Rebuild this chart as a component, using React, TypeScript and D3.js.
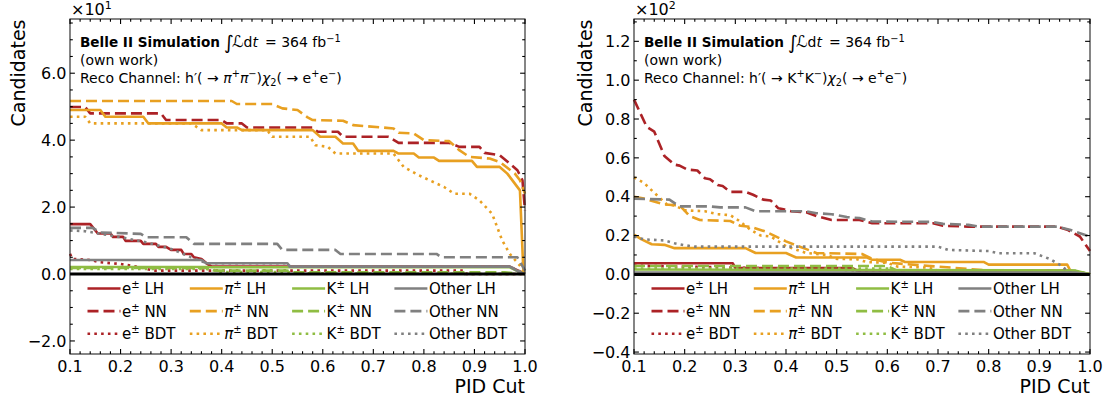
import React from "react";
import * as d3 from "d3";

type Pt = [number, number];

// ---------- shared axis values ----------
const xMajorTicks = [0.1, 0.2, 0.3, 0.4, 0.5, 0.6, 0.7, 0.8, 0.9, 1.0];
const leftYTicks = [-2, 0, 2, 4, 6];
const rightYTicks = [-0.4, -0.2, 0, 0.2, 0.4, 0.6, 0.8, 1.0, 1.2];
const particles = ["e", "pi", "K", "Other"];
const methods = ["LH", "NN", "BDT"];

// ---------- LEFT panel: h'(->pi pi) chi2(->ee), units of 10 candidates ----------
const eLH_L: Pt[] = [[0.1,1.49],[0.14,1.49],[0.155,1.21],[0.18,1.21],[0.185,1.11],[0.205,1.11],[0.21,0.99],[0.24,0.99],[0.245,0.9],[0.27,0.9],[0.275,0.81],[0.29,0.81],[0.3,0.72],[0.32,0.72],[0.325,0.6],[0.34,0.6],[0.345,0.5],[0.36,0.45],[0.37,0.32],[0.38,0.22],[0.97,0.22],[1.0,0]];
const eNN_L: Pt[] = [[0.1,4.99],[0.13,4.99],[0.14,4.8],[0.28,4.8],[0.29,4.6],[0.4,4.6],[0.41,4.5],[0.44,4.5],[0.45,4.38],[0.58,4.38],[0.59,4.25],[0.63,4.25],[0.64,4.1],[0.73,4.1],[0.75,3.92],[0.85,3.92],[0.87,3.8],[0.91,3.8],[0.92,3.62],[0.95,3.55],[0.97,3.3],[0.985,3.1],[0.995,2.8],[1.0,1.9]];
const eBDT_L: Pt[] = [[0.1,0.6],[0.105,0.45],[0.14,0.42],[0.16,0.35],[0.2,0.3],[0.24,0.2],[0.265,0.1],[0.88,0.1],[0.885,0],[1.0,0]];
const piLH_L: Pt[] = [[0.1,4.9],[0.16,4.9],[0.17,4.7],[0.245,4.7],[0.255,4.5],[0.4,4.5],[0.41,4.38],[0.43,4.38],[0.44,4.3],[0.58,4.3],[0.595,4.1],[0.625,4.1],[0.64,3.9],[0.66,3.9],[0.67,3.68],[0.74,3.68],[0.75,3.6],[0.78,3.6],[0.79,3.48],[0.82,3.48],[0.83,3.38],[0.895,3.38],[0.905,3.2],[0.95,3.2],[0.965,3.0],[0.99,2.5],[0.997,0],[1.0,0]];
const piNN_L: Pt[] = [[0.1,5.17],[0.42,5.17],[0.43,5.08],[0.5,5.08],[0.52,4.95],[0.55,4.9],[0.57,4.68],[0.58,4.6],[0.64,4.58],[0.66,4.45],[0.74,4.35],[0.75,4.22],[0.78,4.2],[0.8,4.0],[0.85,3.97],[0.87,3.7],[0.89,3.5],[0.93,3.45],[0.95,3.35],[0.98,3.0],[0.99,2.8],[1.0,2.4]];
const piBDT_L: Pt[] = [[0.1,4.7],[0.13,4.7],[0.14,4.5],[0.34,4.5],[0.36,4.3],[0.49,4.3],[0.5,4.1],[0.575,4.1],[0.585,3.85],[0.61,3.8],[0.625,3.6],[0.74,3.6],[0.75,3.4],[0.76,3.2],[0.79,2.95],[0.84,2.6],[0.86,2.4],[0.89,2.4],[0.91,2.2],[0.935,1.8],[0.955,1.0],[0.97,0.6],[0.99,0.25],[1.0,0]];
const KLH_L: Pt[] = [[0.1,0.21],[0.37,0.21],[0.38,0.2],[0.97,0.2],[0.99,0.05],[1.0,0]];
const KNN_L: Pt[] = [[0.1,0.18],[0.37,0.18],[0.39,0.1],[0.53,0.1],[0.54,0.05],[0.96,0.05],[1.0,0]];
const KBDT_L: Pt[] = [[0.1,0.15],[0.37,0.15],[0.4,0.06],[0.53,0.06],[0.55,0.02],[1.0,0]];
const otherLH_L: Pt[] = [[0.1,0.42],[0.36,0.42],[0.37,0.32],[0.53,0.32],[0.535,0.22],[0.97,0.22],[0.99,0.05],[1.0,0]];
const otherNN_L: Pt[] = [[0.1,1.38],[0.145,1.38],[0.16,1.24],[0.24,1.2],[0.25,1.1],[0.33,1.1],[0.345,0.9],[0.51,0.9],[0.52,0.72],[0.625,0.72],[0.635,0.6],[0.825,0.6],[0.835,0.5],[0.985,0.5],[1.0,0.1]];
const otherBDT_L: Pt[] = [[0.1,1.3],[0.13,1.28],[0.16,1.2],[0.2,1.1],[0.25,0.95],[0.3,0.75],[0.34,0.5],[0.37,0.32],[0.53,0.32],[0.535,0.22],[0.97,0.22],[1.0,0]];

// ---------- RIGHT panel: h'(->K K) chi2(->ee), units of 100 candidates ----------
const eLH_R: Pt[] = [[0.1,0.057],[0.295,0.057],[0.3,0.033],[0.53,0.033],[0.54,0.02],[0.96,0.02],[1.0,0]];
const eNN_R: Pt[] = [[0.1,0.9],[0.125,0.76],[0.14,0.735],[0.16,0.61],[0.18,0.565],[0.19,0.56],[0.205,0.54],[0.225,0.535],[0.24,0.495],[0.25,0.49],[0.265,0.46],[0.275,0.455],[0.29,0.425],[0.32,0.425],[0.335,0.41],[0.355,0.385],[0.37,0.38],[0.385,0.34],[0.395,0.335],[0.41,0.325],[0.44,0.32],[0.46,0.3],[0.49,0.28],[0.545,0.28],[0.57,0.263],[0.69,0.263],[0.71,0.25],[0.76,0.246],[0.935,0.246],[0.955,0.23],[0.98,0.195],[1.0,0.12]];
const eBDT_R: Pt[] = [[0.1,0.045],[0.2,0.04],[0.3,0.035],[0.5,0.025],[0.6,0.015],[0.96,0.015],[1.0,0]];
const piLH_R: Pt[] = [[0.1,0.205],[0.115,0.18],[0.135,0.155],[0.16,0.152],[0.18,0.135],[0.32,0.135],[0.34,0.11],[0.4,0.11],[0.42,0.087],[0.56,0.087],[0.57,0.075],[0.625,0.075],[0.635,0.064],[0.79,0.064],[0.8,0.05],[0.955,0.05],[0.965,0],[1.0,0]];
const piNN_R: Pt[] = [[0.1,0.4],[0.12,0.39],[0.16,0.36],[0.19,0.355],[0.21,0.3],[0.23,0.28],[0.29,0.275],[0.31,0.25],[0.33,0.245],[0.36,0.22],[0.4,0.17],[0.44,0.13],[0.46,0.11],[0.55,0.105],[0.57,0.08],[0.6,0.06],[0.7,0.04],[0.8,0.02],[0.95,0.02],[1.0,0]];
const piBDT_R: Pt[] = [[0.1,0.5],[0.12,0.47],[0.14,0.42],[0.165,0.36],[0.18,0.355],[0.2,0.33],[0.24,0.325],[0.265,0.31],[0.29,0.305],[0.305,0.28],[0.33,0.23],[0.35,0.2],[0.37,0.195],[0.4,0.145],[0.44,0.11],[0.48,0.1],[0.5,0.08],[0.54,0.078],[0.56,0.063],[0.6,0.06],[0.62,0.04],[0.68,0.035],[0.7,0.02],[0.85,0.02],[0.9,0],[1.0,0]];
const KLH_R: Pt[] = [[0.1,0.025],[0.97,0.02],[1.0,0]];
const KNN_R: Pt[] = [[0.1,0.043],[0.6,0.043],[0.62,0.018],[0.97,0.018],[1.0,0]];
const KBDT_R: Pt[] = [[0.1,0.03],[0.6,0.03],[0.62,0.015],[0.97,0.015],[1.0,0]];
const otherLH_R: Pt[] = [[0.1,0.01],[0.97,0.01],[1.0,0]];
const otherNN_R: Pt[] = [[0.1,0.39],[0.17,0.385],[0.19,0.35],[0.25,0.35],[0.27,0.345],[0.32,0.345],[0.34,0.325],[0.44,0.325],[0.46,0.315],[0.49,0.31],[0.52,0.295],[0.545,0.29],[0.57,0.272],[0.69,0.27],[0.71,0.26],[0.76,0.255],[0.78,0.246],[0.935,0.246],[0.96,0.23],[1.0,0.195]];
const otherBDT_R: Pt[] = [[0.1,0.195],[0.12,0.18],[0.16,0.175],[0.18,0.16],[0.2,0.15],[0.22,0.143],[0.7,0.143],[0.72,0.126],[0.8,0.12],[0.82,0.109],[0.89,0.109],[0.92,0.08],[0.94,0.05],[0.96,0.01],[1.0,0]];

const leftSeries: Record<string, Pt[]> = {
  e_LH: eLH_L, e_NN: eNN_L, e_BDT: eBDT_L,
  pi_LH: piLH_L, pi_NN: piNN_L, pi_BDT: piBDT_L,
  K_LH: KLH_L, K_NN: KNN_L, K_BDT: KBDT_L,
  Other_LH: otherLH_L, Other_NN: otherNN_L, Other_BDT: otherBDT_L,
};
const rightSeries: Record<string, Pt[]> = {
  e_LH: eLH_R, e_NN: eNN_R, e_BDT: eBDT_R,
  pi_LH: piLH_R, pi_NN: piNN_R, pi_BDT: piBDT_R,
  K_LH: KLH_R, K_NN: KNN_R, K_BDT: KBDT_R,
  Other_LH: otherLH_R, Other_NN: otherNN_R, Other_BDT: otherBDT_R,
};

const colors: Record<string, string> = {
  e: "#ac2226",
  pi: "#e8a021",
  K: "#8fbd43",
  Other: "#808080",
};
const LW = 2.6;
const dashes: Record<string, string | undefined> = {
  LH: undefined,
  NN: "11,5",
  BDT: "2.6,4.2",
};

const FONT = "'DejaVu Sans', sans-serif";
const TOP = 19;
const BOTTOM = 354;
const AFS = 14;

function ParticleLabel({ p, m }: { p: string; m: string }) {
  const sup = (s: string) => [
    <tspan key="s" dy={-6} fontSize={10}>{s}</tspan>,
    <tspan key="r" dy={6}>{" " + m}</tspan>,
  ];
  if (p === "e") return <>{"e"}{sup("±")}</>;
  if (p === "pi") return <><tspan fontStyle="italic">π</tspan>{sup("±")}</>;
  if (p === "K") return <>{"K"}{sup("±")}</>;
  return <>{"Other " + m}</>;
}

function Panel(props: {
  x0: number; x1: number; yDomain: [number, number]; yTicks: number[];
  yMinor: number; mult: string; series: Record<string, Pt[]>; channel: "pi" | "K";
  ylabX: number;
}) {
  const { x0, x1, yDomain, yTicks, yMinor, mult, series, channel, ylabX } = props;
  const xs = d3.scaleLinear().domain([0.1, 1.0]).range([x0, x1]);
  const ys = d3.scaleLinear().domain(yDomain).range([BOTTOM, TOP]);
  const line = d3.line<Pt>().x((d) => xs(d[0])).y((d) => ys(d[1]));
  const xMinor = d3.range(0, 46).map((i) => 0.1 + i * 0.02).filter((v) => v <= 1.0001 && Math.abs(v * 10 - Math.round(v * 10)) > 1e-6);
  const yMinorTicks: number[] = [];
  for (let v = Math.ceil(yDomain[0] / yMinor) * yMinor; v <= yDomain[1]; v += yMinor) {
    const isMajor = yTicks.some((t) => Math.abs(t - v) < 1e-6);
    if (!isMajor) yMinorTicks.push(v);
  }
  const fmt = d3.format(".1f");
  const majL = 4.9, minL = 2.8;
  const tx = x0 + 10;
  const h = channel;
  const supS = 9.8;
  return (
    <g fontFamily={FONT}>
      {/* curves */}
      {particles.map((p) =>
        methods.map((m) => (
          <path key={p + m} d={line(series[p + "_" + m]) || ""} fill="none" stroke={colors[p]}
            strokeWidth={LW} strokeDasharray={dashes[m]} strokeLinejoin="round" />
        ))
      )}
      {/* zero line */}
      <line x1={x0} x2={x1} y1={ys(0)} y2={ys(0)} stroke="#000" strokeWidth={3} />
      {/* frame */}
      <rect x={x0} y={TOP} width={x1 - x0} height={BOTTOM - TOP} fill="none" stroke="#222" strokeWidth={1.1} />
      {/* x ticks */}
      {xMajorTicks.map((t) => (
        <g key={"xm" + t}>
          <line x1={xs(t)} x2={xs(t)} y1={BOTTOM} y2={BOTTOM - majL} stroke="#000" strokeWidth={1.1} />
          <line x1={xs(t)} x2={xs(t)} y1={TOP} y2={TOP + majL} stroke="#000" strokeWidth={1.1} />
          <text x={xs(t)} y={372} textAnchor="middle" fontSize={16}>{fmt(t)}</text>
        </g>
      ))}
      {xMinor.map((t) => (
        <g key={"xn" + t}>
          <line x1={xs(t)} x2={xs(t)} y1={BOTTOM} y2={BOTTOM - minL} stroke="#000" strokeWidth={1.1} />
          <line x1={xs(t)} x2={xs(t)} y1={TOP} y2={TOP + minL} stroke="#000" strokeWidth={1.1} />
        </g>
      ))}
      {/* y ticks */}
      {yTicks.map((t) => (
        <g key={"ym" + t}>
          <line x1={x0} x2={x0 + majL} y1={ys(t)} y2={ys(t)} stroke="#000" strokeWidth={1.1} />
          <line x1={x1} x2={x1 - majL} y1={ys(t)} y2={ys(t)} stroke="#000" strokeWidth={1.1} />
          <text x={x0 - 3.5} y={ys(t)} dy="0.36em" textAnchor="end" fontSize={16}>{fmt(t)}</text>
        </g>
      ))}
      {yMinorTicks.map((t) => (
        <g key={"yn" + t}>
          <line x1={x0} x2={x0 + minL} y1={ys(t)} y2={ys(t)} stroke="#000" strokeWidth={1.1} />
          <line x1={x1} x2={x1 - minL} y1={ys(t)} y2={ys(t)} stroke="#000" strokeWidth={1.1} />
        </g>
      ))}
      {/* axis labels */}
      <text x={x1} y={393} textAnchor="end" fontSize={19}>PID Cut</text>
      <text transform={`translate(${ylabX},73) rotate(-90)`} textAnchor="middle" fontSize={19}>Candidates</text>
      <text x={x0 + 1} y={15} fontSize={16}>{"×10"}<tspan dy={-6} fontSize={11}>{mult}</tspan></text>
      {/* annotation */}
      <text x={tx} y={47} fontSize={13.6} fontWeight="bold">Belle II Simulation</text>
      <text x={tx + 144} y={48.5} fontSize={19}>∫</text>
      <text x={tx + 152} y={47} fontSize={AFS}><tspan fontSize={16}>ℒ</tspan>d<tspan fontStyle="italic">t</tspan></text>
      <text x={tx + 185} y={47} fontSize={AFS}>= 364 fb<tspan dy={-5.5} fontSize={supS}>−1</tspan></text>
      <text x={tx} y={65} fontSize={AFS}>(own work)</text>
      <text x={tx} y={82.5} fontSize={AFS}>
        {"Reco Channel: h′( → "}
        {h === "pi" ? (
          <>
            <tspan fontStyle="italic">π</tspan><tspan dy={-5.5} fontSize={supS}>+</tspan>
            <tspan dy={5.5} fontStyle="italic">π</tspan><tspan dy={-5.5} fontSize={supS}>−</tspan>
          </>
        ) : (
          <>
            <tspan>K</tspan><tspan dy={-5.5} fontSize={supS}>+</tspan>
            <tspan dy={5.5}>K</tspan><tspan dy={-5.5} fontSize={supS}>−</tspan>
          </>
        )}
        <tspan dy={5.5}>)</tspan>
        <tspan fontStyle="italic">χ</tspan><tspan dy={3} fontSize={supS}>2</tspan>
        <tspan dy={-3}>{"( → e"}</tspan><tspan dy={-5.5} fontSize={supS}>+</tspan>
        <tspan dy={5.5}>e</tspan><tspan dy={-5.5} fontSize={supS}>−</tspan>
        <tspan dy={5.5}>)</tspan>
      </text>
      {/* legend */}
      {particles.map((p, ci) =>
        methods.map((m, ri) => {
          const hx = x0 + 17.5 + ci * 102.3;
          const hy = 288.5 + ri * 22.6;
          return (
            <g key={"lg" + p + m}>
              <line x1={hx} x2={hx + 33} y1={hy} y2={hy} stroke={colors[p]} strokeWidth={LW}
                strokeDasharray={dashes[m]} />
              <text x={hx + 34.5} y={hy} dy="0.36em" fontSize={15}>
                <ParticleLabel p={p} m={m} />
              </text>
            </g>
          );
        })
      )}
    </g>
  );
}

export default function App() {
  return (
    <svg width={1113} height={401} viewBox="0 0 1113 401"
      style={{ position: "absolute", left: 0, top: 0, background: "#fff" }}>
      <rect x={0} y={0} width={1113} height={401} fill="#fff" />
      <Panel x0={70} x1={525} yDomain={[-2.39, 7.62]} yTicks={leftYTicks} yMinor={0.5}
        mult="1" series={leftSeries} channel="pi" ylabX={25} />
      <Panel x0={634} x1={1090} yDomain={[-0.41, 1.315]} yTicks={rightYTicks} yMinor={0.1}
        mult="2" series={rightSeries} channel="K" ylabX={592} />
    </svg>
  );
}
